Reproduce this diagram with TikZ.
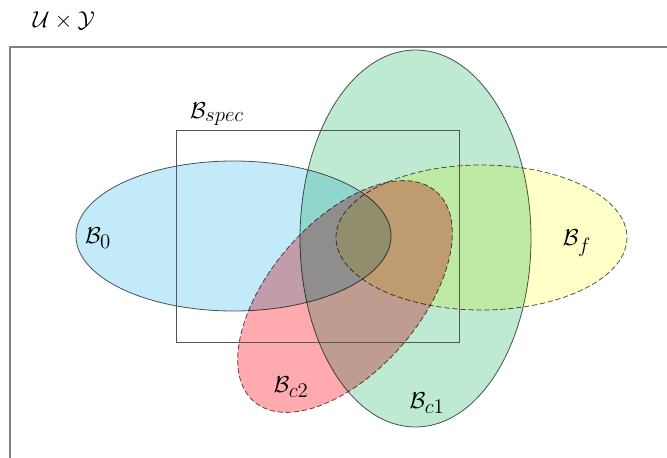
\documentclass[tikz,border=0pt]{standalone}
\usepackage{amsmath,amssymb}
\usepackage{graphicx}
\usepackage{tikz}
\newcommand{\bset}[1]{\mathcal{B}_{\scalebox{1.3}{$\scriptstyle #1$}}}
\definecolor{setblue}{RGB}{194,234,249}
\definecolor{setgreen}{RGB}{190,234,210}
\definecolor{setyellow}{RGB}{255,255,200}
\definecolor{setred}{RGB}{255,170,175}
\definecolor{rimgray}{RGB}{85,85,85}

\begin{document}
\begin{tikzpicture}[
  x=0.75pt,y=-0.75pt,
  setlabel/.style={font=\fontsize{17}{20}\selectfont,inner sep=0pt},
  region/.style={draw=rimgray,line width=0.6pt},
  guess/.style={region,dashed,dash pattern=on 4pt off 2pt}
]
\clip (0,0) rectangle (667,457);
% universe U x Y
\draw[gray,line width=1.1pt] (10,47) rectangle (690,480);
\node[setlabel] (uy) at (64,21) {$\mathcal{U}\times\mathcal{Y}$};
% the sets
\begin{scope}[blend group=multiply]
\filldraw[region,fill=setblue] (233.5,236) ellipse [x radius=157.5, y radius=75];
\filldraw[region,fill=setgreen] (415.5,238.5) ellipse [x radius=115.5, y radius=188.5];
\filldraw[guess,fill=setyellow] (481.5,237.5) ellipse [x radius=145.5, y radius=72.5];
\filldraw[guess,fill=setred,rotate around={49:(345,296.5)}] (345,296.5) ellipse [x radius=139, y radius=75];
\end{scope}
\draw[rimgray,line width=0.7pt] (176,130) rectangle (459,342);
% labels
\node[setlabel] (bspec) at (217,114) {$\bset{spec}$};
\node[setlabel] (b0) at (98,238) {$\bset{0}$};
\node[setlabel] (bf) at (577,243) {$\bset{f}$};
\node[setlabel] (bc2) at (291,387) {$\bset{c2}$};
\node[setlabel] (bc1) at (427,403) {$\bset{c1}$};
\end{tikzpicture}
\end{document}
